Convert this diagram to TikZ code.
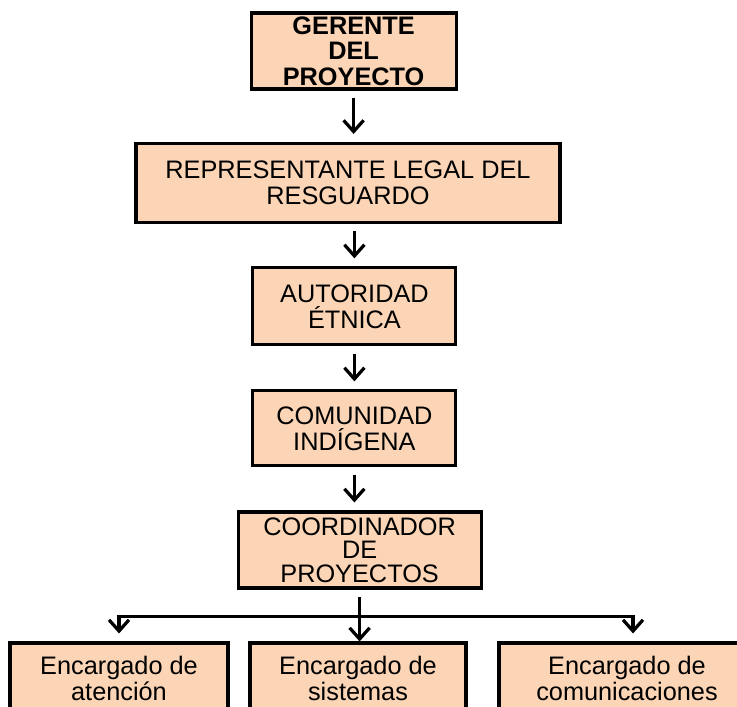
\documentclass[tikz,border=0pt]{standalone}
\usepackage{fontspec}
\setmainfont{Liberation Sans}
\usetikzlibrary{positioning}
\usetikzlibrary{calc}
\usetikzlibrary{arrows.meta}
\newcommand{\drawcolor}{black}
\definecolor{peach}{HTML}{FBD5B5}
\colorlet{componentfill}{peach}
\colorlet{componentborder}{\drawcolor}
\tikzstyle{peachmodule}=[\drawcolor, align=center, solid, draw=componentborder, line width=2.2pt, fill=componentfill, inner sep=0pt, font=\fontsize{18}{18.5}\selectfont]
\tikzstyle{flowarrow}=[\drawcolor, -{Straight Barb[length=2.8mm, width=5mm]}, line width=2.3pt, shorten <=1.8mm, shorten >=2mm]

\begin{document}
\begin{tikzpicture}
    \useasboundingbox (0, 0) rectangle (18.425, -17.675);
    \clip (0, 0) rectangle (18.425, -17.675);

    \node[peachmodule, minimum width=5.125cm, minimum height=1.9cm, font=\bfseries\fontsize{18}{18}\selectfont] at (8.84, -1.275) (gerente) {GERENTE\\DEL\\PROYECTO};

    \node[peachmodule, minimum width=10.6cm, minimum height=1.975cm] at ($(gerente) + (-0.14, -3.3)$) (representante) {REPRESENTANTE LEGAL DEL\\RESGUARDO};

    \node[peachmodule, minimum width=5.075cm, minimum height=1.925cm] at ($(gerente) + (0.02, -6.385)$) (autoridad) {AUTORIDAD\\ÉTNICA};

    \node[peachmodule, minimum width=5.075cm, minimum height=1.875cm] at ($(autoridad) + (0, -3.05)$) (comunidad) {COMUNIDAD\\INDÍGENA};

    \node[peachmodule, minimum width=6.075cm, minimum height=1.9cm, font=\fontsize{18}{16.6}\selectfont] at ($(comunidad) + (0.13, -3.04)$) (coordinador) {COORDINADOR\\DE\\PROYECTOS};

    \node[peachmodule, minimum width=5.45cm, minimum height=1.75cm] at (2.975, -16.95) (atencion) {Encargado de\\atención};

    \node[peachmodule, minimum width=5.4cm, minimum height=1.75cm] at ($(atencion) + (5.975, 0)$) (sistemas) {Encargado de\\sistemas};

    \node[peachmodule, minimum width=6.4cm, minimum height=1.75cm] at ($(sistemas) + (6.725, 0)$) (comunicaciones) {Encargado de\\comunicaciones};

    \coordinate (split) at ($(coordinador.south) + (0, -0.675)$);

    % Arrows
    \draw[flowarrow] (gerente.south) -- (gerente.south |- representante.north);
    \draw[flowarrow] (autoridad.north |- representante.south) -- (autoridad.north);
    \draw[flowarrow] (autoridad.south) -- (comunidad.north);
    \draw[flowarrow] (comunidad.south) -- (comunidad.south |- coordinador.north);

    \draw[flowarrow, shorten >=0pt] (coordinador.south) -- (coordinador.south |- sistemas.north);
    \draw[flowarrow, shorten <=0pt] (split) -| (atencion.north);
    \draw[flowarrow, shorten <=0pt] (split) -| ($(comunicaciones.north) + (0.15, 0)$);
\end{tikzpicture}
\end{document}
